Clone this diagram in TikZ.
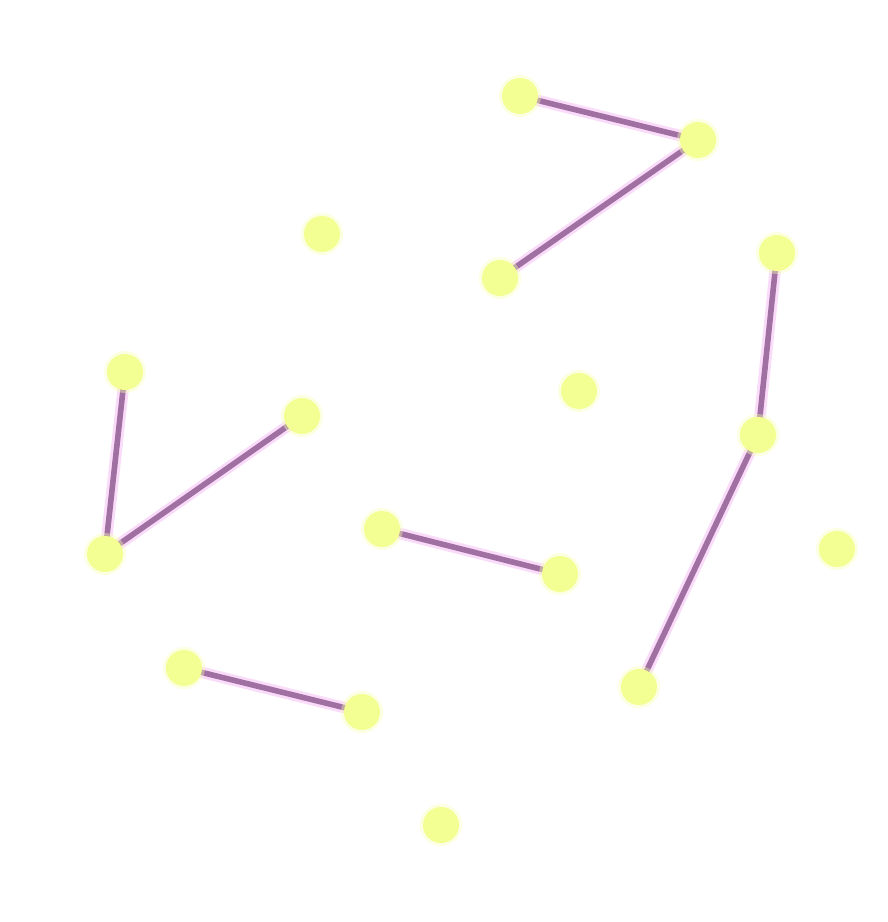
\documentclass[tikz,border=0pt]{standalone}
\usepackage{tikz}

\definecolor{dotyellow}{HTML}{F3FF92}
\definecolor{linkpurple}{HTML}{A070A2}
\definecolor{glowpink}{HTML}{F5C0F5}
\tikzset{
    dot/.style={circle, fill=dotyellow, minimum size=0.72cm, inner sep=0pt},
    dotglow/.style={circle, fill=dotyellow!70, opacity=0.4, minimum size=0.84cm, inner sep=0pt},
    link/.style={linkpurple, line width=3.2pt},
    linkglow/.style={glowpink, line width=6.5pt, opacity=0.55}
}

\begin{document}
\begin{tikzpicture}
    \useasboundingbox (0,0) rectangle (17.76,-18.44);
    \foreach \n/\x/\y in {a/520/96, b/698/140, c/500/278, d/322/234, e/777/253,
        f/125/372, g/302/416, h/579/391, i/758/435, j/105/554, k/382/529,
        l/560/574, m/837/549, n/184/668, o/362/712, p/639/687, q/441/825}
        \coordinate (\n) at (\x/50,-\y/50);
    \foreach \s/\t in {a/b, b/c, e/i, i/p, f/j, j/g, k/l, n/o}
        \draw[linkglow] (\s) -- (\t);
    \foreach \s/\t in {a/b, b/c, e/i, i/p, f/j, j/g, k/l, n/o}
        \draw[link] (\s) -- (\t);
    \foreach \n in {a,b,c,d,e,f,g,h,i,j,k,l,m,n,o,p,q} {
        \node[dotglow] at (\n) {};
        \node[dot] (\n dot) at (\n) {};
    }
\end{tikzpicture}
\end{document}
